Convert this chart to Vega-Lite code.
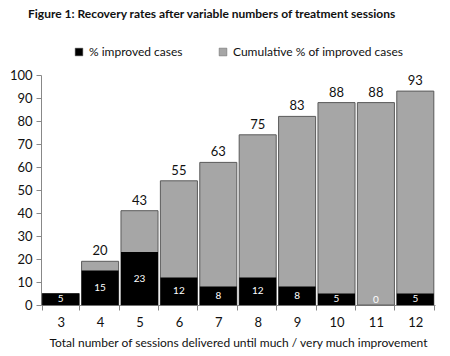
{
  "$schema": "https://vega.github.io/schema/vega-lite/v6.json",
  "width": 394,
  "height": 230,
  "autosize": {"type": "none"},
  "padding": {"left": 41, "top": 75, "right": 15, "bottom": 51},
  "background": "white",
  "config": {
    "font": "Lato",
    "view": {"stroke": null},
    "axis": {"labelFont": "Lato", "titleFont": "Lato", "labelColor": "#111", "titleColor": "#111", "domainColor": "#888", "tickColor": "#888", "grid": false},
    "legend": {"labelFont": "Lato"}
  },
  "title": {
    "text": "Figure 1: Recovery rates after variable numbers of treatment sessions",
    "anchor": "start",
    "frame": "group",
    "fontSize": 12,
    "fontWeight": "bold",
    "font": "Lato",
    "color": "#111",
    "dx": -13,
    "offset": 25
  },
  "data": {
    "values": [
      {"session": "3", "improved": 5, "cumulative": 5, "cumLabel": null},
      {"session": "4", "improved": 15, "cumulative": 19, "cumLabel": "20"},
      {"session": "5", "improved": 23, "cumulative": 41, "cumLabel": "43"},
      {"session": "6", "improved": 12, "cumulative": 54, "cumLabel": "55"},
      {"session": "7", "improved": 8, "cumulative": 62, "cumLabel": "63"},
      {"session": "8", "improved": 12, "cumulative": 74, "cumLabel": "75"},
      {"session": "9", "improved": 8, "cumulative": 82, "cumLabel": "83"},
      {"session": "10", "improved": 5, "cumulative": 88, "cumLabel": "88"},
      {"session": "11", "improved": 0, "cumulative": 88, "cumLabel": "88"},
      {"session": "12", "improved": 5, "cumulative": 93, "cumLabel": "93"}
    ]
  },
  "encoding": {
    "x": {
      "field": "session",
      "type": "ordinal",
      "sort": null,
      "scale": {"paddingInner": 0.06, "paddingOuter": 0.03},
      "axis": {
        "title": "Total number of sessions delivered until much / very much improvement",
        "labelAngle": 0,
        "labelFontSize": 13,
        "titleFontSize": 12,
        "titleFontWeight": "normal",
        "tickBand": "extent",
        "tickSize": 5,
        "labelPadding": 6,
        "titlePadding": 8
      }
    }
  },
  "layer": [
    {
      "mark": {"type": "bar", "stroke": "#5a5a5a", "strokeWidth": 1},
      "encoding": {
        "y": {
          "field": "cumulative",
          "type": "quantitative",
          "scale": {"domain": [0, 100], "nice": false},
          "axis": {"title": null, "values": [0, 10, 20, 30, 40, 50, 60, 70, 80, 90, 100], "tickCount": 12, "labelFontSize": 13, "tickSize": 5, "labelPadding": 4, "labelOverlap": false}
        },
        "color": {
          "datum": "Cumulative % of improved cases",
          "scale": {"domain": ["% improved cases", "Cumulative % of improved cases"], "range": ["#000000", "#a6a6a6"]},
          "legend": {
            "title": null,
            "orient": "none",
            "direction": "horizontal",
            "legendX": 32,
            "legendY": -29,
            "symbolType": "square",
            "symbolSize": 60,
            "symbolStrokeColor": "#666",
            "symbolStrokeWidth": 0.5,
            "labelFontSize": 12,
            "labelColor": "#111",
            "labelLimit": 400,
            "columnPadding": 34,
            "labelOffset": 4
          }
        }
      }
    },
    {
      "mark": {"type": "bar"},
      "encoding": {
        "y": {"field": "improved", "type": "quantitative", "axis": {"title": null}},
        "color": {"datum": "% improved cases"}
      }
    },
    {
      "transform": [{"filter": "datum.cumLabel != null"}],
      "mark": {"type": "text", "baseline": "bottom", "dy": -3, "fontSize": 13, "color": "#111"},
      "encoding": {
        "y": {"field": "cumulative", "type": "quantitative", "axis": {"title": null}},
        "text": {"field": "cumLabel"}
      }
    },
    {
      "transform": [{"calculate": "max(datum.improved / 2, 2.3)", "as": "mid"}],
      "mark": {"type": "text", "baseline": "middle", "fontSize": 10, "color": "white"},
      "encoding": {
        "y": {"field": "mid", "type": "quantitative", "axis": {"title": null}},
        "text": {"field": "improved", "type": "quantitative"}
      }
    }
  ]
}
